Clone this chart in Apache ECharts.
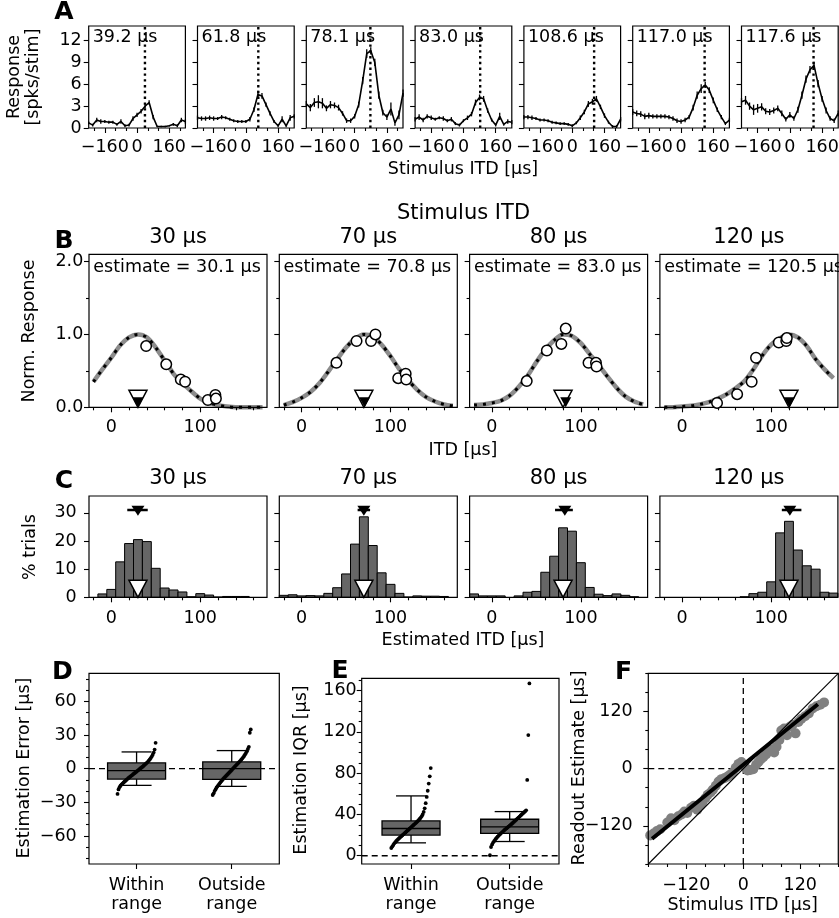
<!DOCTYPE html>
<html><head><meta charset="utf-8">
<script src="https://cdn.jsdelivr.net/npm/echarts@6/dist/echarts.min.js"></script>
<style>html,body{margin:0;padding:0;background:#fff}#c{width:839px;height:918px}</style>
</head><body><div id="c"></div>
<script>
// ---------------- DATA ----------------
const itdA = [-240,-220,-200,-180,-160,-140,-120,-100,-80,-60,-40,-20,0,20,40,60,80,100,120,140,160,180,200,220,240];
const bfA = [39.2, 61.8, 78.1, 83.0, 108.6, 117.0, 117.6];
const respA1 = [0.7,0.4,1.1,0.9,0.9,0.8,0.8,0.5,0.9,0.3,0.4,1.3,1.8,2.3,3.0,3.5,1.5,0.2,0.2,0.2,0.3,0.5,0.3,1.1,0.9];
const respA2 = [1.4,1.3,1.3,1.4,1.3,1.3,1.5,1.4,1.2,1.0,0.9,0.9,0.9,1.2,2.5,4.6,4.4,3.2,2.0,0.9,0.3,1.2,0.3,1.4,1.6];
const respA3 = [3.3,2.8,3.5,3.6,3.4,2.7,3.2,3.1,2.8,2.0,1.0,1.0,1.6,3.2,6.5,10.2,10.6,9.0,4.5,2.1,1.5,2.6,0.7,1.8,4.8];
const respA4 = [1.2,1.5,1.1,1.6,1.4,1.2,1.4,1.3,1.0,1.2,0.6,0.4,1.0,1.4,1.9,3.5,4.2,4.0,2.4,1.1,0.4,1.6,0.5,0.9,0.8];
const respA5 = [1.5,1.5,1.4,1.3,1.1,1.1,1.0,0.8,0.7,0.6,0.6,0.5,0.3,0.7,1.4,2.2,3.3,3.6,4.0,2.9,1.7,0.8,0.2,0.2,1.2];
const respA6 = [2.2,2.0,1.9,1.6,1.7,1.6,1.6,1.6,1.6,1.5,1.3,1.0,0.9,1.1,1.5,2.8,4.5,5.4,5.9,5.2,3.8,2.5,1.5,0.6,1.1];
const respA7 = [3.6,3.8,3.0,2.5,2.7,2.9,2.3,2.2,2.4,2.7,2.0,1.2,1.8,1.3,2.5,4.5,6.7,8.0,8.6,6.1,4.0,2.4,1.3,1.0,2.0];
const errA1 = [0.2,0.2,0.3,0.3,0.2,0.2,0.2,0.2,0.3,0.2,0.2,0.3,0.3,0.3,0.3,0.3,0.3,0.1,0.1,0.1,0.1,0.2,0.2,0.3,0.3];
const errA2 = [0.3,0.3,0.3,0.3,0.3,0.2,0.3,0.2,0.2,0.2,0.2,0.2,0.2,0.3,0.3,0.5,0.4,0.3,0.3,0.2,0.2,0.4,0.2,0.4,0.3];
const errA3 = [0.4,0.5,0.6,0.9,0.7,0.4,0.5,0.4,0.4,0.3,0.3,0.3,0.3,0.4,0.5,0.6,0.5,0.5,0.5,0.4,0.4,0.9,0.4,0.6,0.5];
const errA4 = [0.3,0.4,0.3,0.3,0.3,0.2,0.2,0.3,0.2,0.3,0.2,0.2,0.2,0.3,0.3,0.4,0.4,0.4,0.3,0.2,0.2,0.5,0.2,0.3,0.3];
const errA5 = [0.3,0.3,0.3,0.2,0.2,0.2,0.2,0.2,0.2,0.2,0.2,0.2,0.2,0.2,0.3,0.3,0.4,0.4,0.4,0.3,0.3,0.2,0.2,0.2,0.3];
const errA6 = [0.4,0.4,0.4,0.4,0.4,0.3,0.3,0.3,0.3,0.3,0.3,0.3,0.3,0.3,0.3,0.4,0.5,0.6,0.4,0.4,0.4,0.3,0.3,0.2,0.3];
const errA7 = [0.5,0.6,0.5,0.7,0.6,0.5,0.4,0.4,0.4,0.4,0.4,0.3,0.4,0.3,0.4,0.5,0.5,0.5,0.5,0.5,0.4,0.4,0.3,0.3,0.4];

const stimB = [30, 70, 80, 120];
const estB = [30.1, 70.8, 83.0, 120.5];
const itdCurve = [-20,-10,0,10,20,30,40,50,60,70,80,90,100,110,120,130,140,150,160,170];
const curveB1 = [0.35,0.52,0.68,0.85,0.96,1.0,0.96,0.82,0.64,0.46,0.33,0.22,0.12,0.06,0.03,0.01,0.0,0.0,0.0,0.0];
const curveB2 = [0.03,0.07,0.13,0.21,0.33,0.49,0.66,0.82,0.94,1.0,0.97,0.86,0.70,0.52,0.37,0.24,0.14,0.08,0.04,0.02];
const curveB3 = [0.03,0.04,0.06,0.09,0.16,0.28,0.43,0.62,0.79,0.92,1.0,0.98,0.88,0.73,0.58,0.42,0.27,0.15,0.08,0.04];
const curveB4 = [0.0,0.0,0.01,0.02,0.04,0.07,0.12,0.18,0.26,0.36,0.52,0.71,0.86,0.95,1.0,0.96,0.84,0.66,0.52,0.40];
const circB1 = [0.84,0.59,0.38,0.35,0.10,0.17,0.12];
const circB2 = [0.61,0.91,0.91,1.0,0.40,0.46,0.38];
const circB3 = [0.36,0.78,0.87,1.08,0.61,0.61,0.56];
const circB4 = [0.06,0.18,0.35,0.68,0.89,0.91,0.95];

const binC = [-20,-10,0,10,20,30,40,50,60,70,80,90,100,110,120,130,140,150,160,170];
const histC1 = [0.0,1.2,2.8,12.6,19.1,20.5,19.8,10.3,3.3,2.6,1.9,0.2,1.3,0.8,0.1,0.3,0.3,0.3,0.0,0.0];
const histC2 = [0.7,0.9,0.5,0.6,0.5,1.4,3.4,8.3,18.9,28.6,18.4,8.7,4.6,1.4,0.1,0.5,0.4,0.4,0.3,0.0];
const histC3 = [1.2,0.5,0.5,0.5,0.0,0.5,1.8,2.1,8.9,14.6,24.7,23.5,12.3,3.5,1.1,0.6,1.2,0.7,0.2,0.0];
const histC4 = [0,0,0,0,0,0,0,0,0,0.2,1.3,1.8,5.5,22.9,27.0,16.8,11.2,10.0,1.8,1.5];
const medC = [30, 70, 82, 121];
const iqrLoC = [18, 63, 71, 112];
const iqrHiC = [41, 77, 91, 134];

const catNames = ['Within\nrange', 'Outside\nrange'];
const boxD = [[-14.9,-9.3,-1.8,5.1,14.9],[-15.8,-9.6,0.0,6.0,16.1]];
const dotsDwithin = [-22.5,-18.5,-16.5,-15.2,-14.2,-13.3,-12.5,-11.7,-10.9,-10.1,-9.3,-8.5,-7.8,-7.1,-6.4,-5.7,-5.0,-4.3,-3.6,-2.9,-2.2,-1.5,-0.8,-0.1,0.6,1.3,2.0,2.8,3.6,4.4,5.2,6.1,7.1,8.2,9.4,10.8,12.4,14.3,17.0,23.0];
const dotsDoutside = [-23.5,-22,-20,-18.5,-17,-15.8,-14.6,-13.5,-12.4,-11.3,-10.2,-9.2,-8.3,-7.4,-6.5,-5.6,-4.7,-3.8,-2.9,-2.0,-1.1,-0.2,0.7,1.6,2.5,3.4,4.3,5.2,6.1,7.0,8.0,9.0,10.1,11.3,12.6,14.0,15.6,17.5,19.5,32,35];
const boxE = [[12.5,20,26.4,33.8,58],[13.8,21.6,28,35.4,42.8]];
const dotsEwithin = [7.5,9,10.5,12,13.2,14.3,15.3,16.3,17.2,18.1,19,19.9,20.8,21.7,22.6,23.5,24.4,25.3,26.2,27.1,28,28.9,29.8,30.7,31.6,32.5,33.5,34.5,35.6,36.8,38.2,40,42.5,46,51,57,63,70,77,85];
const dotsEoutside = [0.5,8.5,11,13,14.5,16,17.3,18.5,19.6,20.7,21.7,22.7,23.7,24.7,25.6,26.5,27.4,28.3,29.2,30.1,31,32,33,34,35,36,37,38,39,40,41,42,43,44,73.5,117,167];

const stimF = [-196,-189,-182,-175,-160,-152,-145,-137,-130,-124,-118,-110,-104,-97,-90,-86,-80,-75,-69,-64,-58,-52,-46,-40,-34,-28,-22,-16,-10,-4,0,4,9,15,21,27,32,37,42,48,54,60,65,70,76,80,86,92,98,104,110,116,122,130,138,146,154,162,170];
const readF = [-140,-136,-131,-127,-113,-104,-108,-100,-96,-90,-93,-82,-78,-86,-76,-70,-62,-55,-50,-44,-36,-27,-22,-20,-17,-13,-8,2,10,14,8,3,-4,-3,-1,8,14,20,24,30,36,40,34,46,60,80,84,70,88,92,74,98,104,110,116,126,131,134,139];
const fitFx = [-192, 157];
const fitFy = [-147, 135];

// ---------------- BUILD ----------------
const FF = 'DejaVu Sans';
const TICK_FS = 17.5, LAB_FS = 17.5, TITLE_FS = 21, LET_FS = 25;
const MU = '\u00b5';
const grids = [], xAxis = [], yAxis = [], series = [], graphic = [];
const fmtMinus = v => (v < 0 ? '\u2212' + Math.abs(v) : String(v));
const triDown = 'path://M0,0L10,0L5,10Z';

function makeGrid(l, t, w, h) {
  grids.push({left: l, top: t, width: w, height: h, show: true, borderColor: '#000', borderWidth: 1.2,
    backgroundColor: 'rgba(0,0,0,0)', containLabel: false, outerBoundsMode: 'none', z: 4});
  return grids.length - 1;
}
function mkAxis(dim, gi, c, major) {
  return {
    type: 'value', gridIndex: gi, min: c.min, max: c.max, position: dim === 'x' ? 'bottom' : 'left',
    axisLine: {show: false, onZero: false}, splitLine: {show: false},
    axisTick: {show: true, inside: false, length: major ? 5 : 3, customValues: major ? c.majors : c.minors,
      lineStyle: {color: '#000', width: 1.1}},
    axisLabel: {show: major && c.labels !== false, customValues: c.majors, margin: c.margin,
      formatter: c.fmt || fmtMinus, color: '#000', fontFamily: FF, fontSize: TICK_FS, lineHeight: c.lh || 20},
    z: 5
  };
}
function addAxes(gi, cx, cy) {
  const xi = xAxis.length;
  xAxis.push(mkAxis('x', gi, cx, true));
  if (cx.minors) xAxis.push(mkAxis('x', gi, cx, false));
  const yi = yAxis.length;
  yAxis.push(mkAxis('y', gi, cy, true));
  if (cy.minors) yAxis.push(mkAxis('y', gi, cy, false));
  return {xi, yi};
}
function txt(x, y, s, fs, align, o) {
  o = o || {};
  return {type: 'text', x: x, y: y, rotation: o.rot || 0, z: 100, silent: true,
    style: {text: s, fontSize: fs, fontFamily: FF, fontWeight: o.bold ? 'bold' : 'normal', fill: '#000',
      textAlign: align, align: align, textVerticalAlign: 'middle', verticalAlign: 'middle', lineHeight: o.lh}};
}
function lineSeries(ax, data, style, z) {
  return {type: 'line', xAxisIndex: ax.xi, yAxisIndex: ax.yi, data: data, symbol: 'none', silent: true,
    lineStyle: style, z: z || 3, clip: false};
}
function scatterSeries(ax, data, o, z) {
  return Object.assign({type: 'scatter', xAxisIndex: ax.xi, yAxisIndex: ax.yi, data: data, silent: true,
    clip: false, z: z || 4}, o);
}

// ---- Panel A ----
const respA = [respA1, respA2, respA3, respA4, respA5, respA6, respA7];
const errA = [errA1, errA2, errA3, errA4, errA5, errA6, errA7];
const minorA = [-4, -2, -1, 1, 2, 4].map(k => k * 160 / 3);
for (let i = 0; i < 7; i++) {
  const l = 88.7 + i * 108.8;
  const gi = makeGrid(l, 26, 96.7, 102);
  const ax = addAxes(gi, {min: -240, max: 240, majors: [-160, 0, 160], minors: minorA, margin: 9},
                         {min: 0, max: 14, majors: [0, 3, 6, 9, 12], labels: i === 0, margin: 7});
  series.push(lineSeries(ax, itdA.map((x, j) => [x, respA[i][j]]), {color: '#000', width: 1.6}, 3));
  series.push({type: 'custom', xAxisIndex: ax.xi, yAxisIndex: ax.yi, silent: true, z: 3,
    data: itdA.map((x, j) => [x, respA[i][j], errA[i][j]]),
    renderItem: (p, api) => {
      const a = api.coord([api.value(0), api.value(1) - api.value(2)]);
      const b = api.coord([api.value(0), api.value(1) + api.value(2)]);
      return {type: 'line', shape: {x1: a[0], y1: a[1], x2: b[0], y2: b[1]}, style: {stroke: '#000', lineWidth: 1.3}};
    }});
  series.push(lineSeries(ax, [[bfA[i], 0], [bfA[i], 14]], {color: '#000', width: 2.4, type: [2.4, 3.4]}, 2));
  graphic.push(txt(l + 4, 37.5, bfA[i].toFixed(1) + ' ' + MU + 's', LAB_FS, 'left'));
}
graphic.push(txt(24, 77, 'Response\n[spks/stim]', LAB_FS, 'center', {rot: Math.PI / 2, lh: 19}));
graphic.push(txt(463, 169, 'Stimulus ITD [' + MU + 's]', LAB_FS, 'center'));
graphic.push(txt(64, 12, 'A', LET_FS, 'center', {bold: true}));

// ---- Panels B & C ----
const curveB = [curveB1, curveB2, curveB3, curveB4];
const circB = [circB1, circB2, circB3, circB4];
const histC = [histC1, histC2, histC3, histC4];
const minorBC = [-20, 20, 40, 60, 80, 120, 140, 160];
for (let i = 0; i < 4; i++) {
  const l = 89 + i * 190.3;
  const gi = makeGrid(l, 254.3, 178, 153);
  const ax = addAxes(gi, {min: -25, max: 175, majors: [0, 100], minors: minorBC, margin: 10},
    {min: 0, max: 2.1, majors: [0, 1, 2], minors: [0.5, 1.5], labels: i === 0, margin: 5.7, fmt: v => Number(v).toFixed(1)});
  const cd = itdCurve.map((x, j) => [x, curveB[i][j]]);
  series.push(Object.assign(lineSeries(ax, cd, {color: '#8c8c8c', width: 4.5}, 2), {smooth: 0.3}));
  series.push(Object.assign(lineSeries(ax, cd, {color: '#000', width: 3, type: [3, 6]}, 3), {smooth: 0.3}));
  series.push(scatterSeries(ax, bfA.map((x, j) => [x, circB[i][j]]),
    {symbol: 'circle', symbolSize: 10.5, itemStyle: {color: '#fff', borderColor: '#000', borderWidth: 1.5, opacity: 1}}, 5));
  series.push(scatterSeries(ax, [[stimB[i], 0]],
    {symbol: triDown, symbolSize: [18, 17], symbolOffset: [0, -8.5], itemStyle: {color: '#fff', borderColor: '#000', borderWidth: 1.5, opacity: 1}}, 6));
  series.push(scatterSeries(ax, [[estB[i], 0]],
    {symbol: triDown, symbolSize: [11, 10], symbolOffset: [0, -5], itemStyle: {color: '#000', opacity: 1}}, 7));
  graphic.push(txt(l + 89, 238, stimB[i] + ' ' + MU + 's', TITLE_FS, 'center'));
  graphic.push(txt(l + 4.3, 267, 'estimate = ' + estB[i].toFixed(1) + ' ' + MU + 's', LAB_FS, 'left'));

  const gc = makeGrid(l, 496, 178, 101.3);
  const axc = addAxes(gc, {min: -25, max: 175, majors: [0, 100], minors: minorBC, margin: 11},
    {min: 0, max: 36, majors: [0, 10, 20, 30], labels: i === 0, margin: 12.3});
  series.push({type: 'custom', xAxisIndex: axc.xi, yAxisIndex: axc.yi, silent: true, z: 3,
    data: binC.map((x, j) => [x, histC[i][j]]),
    renderItem: (p, api) => {
      const v = api.value(1);
      if (!(v > 0)) return null;
      const a = api.coord([api.value(0) - 5, v]);
      const b = api.coord([api.value(0) + 5, 0]);
      return {type: 'rect', shape: {x: a[0], y: a[1], width: b[0] - a[0], height: b[1] - a[1]},
        style: {fill: '#666666', stroke: '#000', lineWidth: 1}};
    }});
  series.push(scatterSeries(axc, [[stimB[i], 0]],
    {symbol: triDown, symbolSize: [18, 17], symbolOffset: [0, -8.5], itemStyle: {color: '#fff', borderColor: '#000', borderWidth: 1.5, opacity: 1}}, 6));
  series.push(lineSeries(axc, [[iqrLoC[i], 31], [iqrHiC[i], 31]], {color: '#000', width: 2.5}, 6));
  series.push(scatterSeries(axc, [[medC[i], 30.8]],
    {symbol: triDown, symbolSize: [13, 10], itemStyle: {color: '#000', opacity: 1}}, 7));
  graphic.push(txt(l + 89, 479, stimB[i] + ' ' + MU + 's', TITLE_FS, 'center'));
}
graphic.push(txt(463.5, 214, 'Stimulus ITD', TITLE_FS, 'center'));
graphic.push(txt(29.5, 331, 'Norm. Response', LAB_FS, 'center', {rot: Math.PI / 2}));
graphic.push(txt(463, 450, 'ITD [' + MU + 's]', LAB_FS, 'center'));
graphic.push(txt(64, 241, 'B', LET_FS, 'center', {bold: true}));
graphic.push(txt(30, 547, '% trials', LAB_FS, 'center', {rot: Math.PI / 2}));
graphic.push(txt(463, 640, 'Estimated ITD [' + MU + 's]', LAB_FS, 'center'));
graphic.push(txt(64, 481, 'C', LET_FS, 'center', {bold: true}));

// ---- Panels D & E ----
function boxPanel(gi, yCfg, boxes, dotsList) {
  const ax = addAxes(gi, {min: -0.5, max: 1.5, majors: [0, 1], margin: 11.5, lh: 19, fmt: v => catNames[Math.round(v)]}, yCfg);
  series.push(lineSeries(ax, [[-0.5, 0], [1.5, 0]], {color: '#000', width: 1.3, type: [6, 4]}, 2));
  series.push({type: 'custom', xAxisIndex: ax.xi, yAxisIndex: ax.yi, silent: true, z: 3,
    data: boxes.map((b, g) => [g].concat(b)),
    renderItem: (p, api) => {
      const g = api.value(0);
      const pLo = api.coord([g, api.value(1)]), pQ1 = api.coord([g, api.value(2)]), pMd = api.coord([g, api.value(3)]),
            pQ3 = api.coord([g, api.value(4)]), pHi = api.coord([g, api.value(5)]);
      const cx = pMd[0], hw = 29, cw = 15, st = {stroke: '#000', lineWidth: 1.3};
      return {type: 'group', children: [
        {type: 'line', shape: {x1: cx, y1: pLo[1], x2: cx, y2: pQ1[1]}, style: st},
        {type: 'line', shape: {x1: cx, y1: pQ3[1], x2: cx, y2: pHi[1]}, style: st},
        {type: 'line', shape: {x1: cx - cw, y1: pLo[1], x2: cx + cw, y2: pLo[1]}, style: st},
        {type: 'line', shape: {x1: cx - cw, y1: pHi[1], x2: cx + cw, y2: pHi[1]}, style: st},
        {type: 'rect', shape: {x: cx - hw, y: pQ3[1], width: 2 * hw, height: pQ1[1] - pQ3[1]}, style: {fill: '#666666', stroke: '#000', lineWidth: 1.3}},
        {type: 'line', shape: {x1: cx - hw, y1: pMd[1], x2: cx + hw, y2: pMd[1]}, style: st}
      ]};
    }});
  dotsList.forEach((vals, g) => {
    const n = vals.length;
    series.push(scatterSeries(ax, vals.map((v, k) => [g - 0.2 + 0.4 * k / (n - 1), v]),
      {symbol: 'circle', symbolSize: 3.8, itemStyle: {color: '#000', opacity: 1}}, 5));
  });
}
const gD = makeGrid(89, 673.3, 190.3, 190.7);
boxPanel(gD, {min: -85, max: 85, majors: [-60, -30, 0, 30, 60],
  minors: [-80, -70, -50, -40, -20, -10, 10, 20, 40, 50, 70, 80], margin: 12.3}, boxD, [dotsDwithin, dotsDoutside]);
graphic.push(txt(24, 768, 'Estimation Error [' + MU + 's]', LAB_FS, 'center', {rot: Math.PI / 2}));
graphic.push(txt(62.5, 672.5, 'D', LET_FS, 'center', {bold: true}));

const gE = makeGrid(361.7, 678.3, 197.3, 185.7);
boxPanel(gE, {min: -8, max: 172, majors: [0, 40, 80, 120, 160],
  minors: [10, 20, 30, 50, 60, 70, 90, 100, 110, 130, 140, 150, 170], margin: 5}, boxE, [dotsEwithin, dotsEoutside]);
graphic.push(txt(301, 770, 'Estimation IQR [' + MU + 's]', LAB_FS, 'center', {rot: Math.PI / 2}));
graphic.push(txt(340, 671, 'E', LET_FS, 'center', {bold: true}));

// ---- Panel F ----
const gF = makeGrid(648.3, 673.3, 190, 190.7);
const minorF = [-200, -160, -80, -40, 40, 80, 160, 200];
const axF = addAxes(gF, {min: -200, max: 200, majors: [-120, 0, 120], minors: minorF, margin: 11},
                        {min: -200, max: 200, majors: [-120, 0, 120], minors: minorF, margin: 15.6});
series.push(lineSeries(axF, [[0, -200], [0, 200]], {color: '#000', width: 1.3, type: [6, 4]}, 2));
series.push(lineSeries(axF, [[-200, 0], [200, 0]], {color: '#000', width: 1.3, type: [6, 4]}, 2));
series.push(scatterSeries(axF, stimF.map((x, j) => [x, readF[j]]),
  {symbol: 'circle', symbolSize: 10, itemStyle: {color: '#808080', opacity: 1}}, 3));
series.push(lineSeries(axF, [[-200, -200], [200, 200]], {color: '#000', width: 1.1}, 4));
series.push(lineSeries(axF, fitFx.map((x, j) => [x, fitFy[j]]), {color: '#000', width: 4}, 5));
graphic.push(txt(579, 768, 'Readout Estimate [' + MU + 's]', LAB_FS, 'center', {rot: Math.PI / 2}));
graphic.push(txt(742.7, 905.5, 'Stimulus ITD [' + MU + 's]', LAB_FS, 'center'));
graphic.push(txt(623.5, 672.5, 'F', LET_FS, 'center', {bold: true}));

const chart = echarts.init(document.getElementById('c'), null, {renderer: 'canvas', width: 839, height: 918});
chart.setOption({
  animation: false,
  backgroundColor: '#fff',
  textStyle: {fontFamily: FF},
  grid: grids, xAxis: xAxis, yAxis: yAxis, series: series, graphic: graphic
});
</script></body></html>
